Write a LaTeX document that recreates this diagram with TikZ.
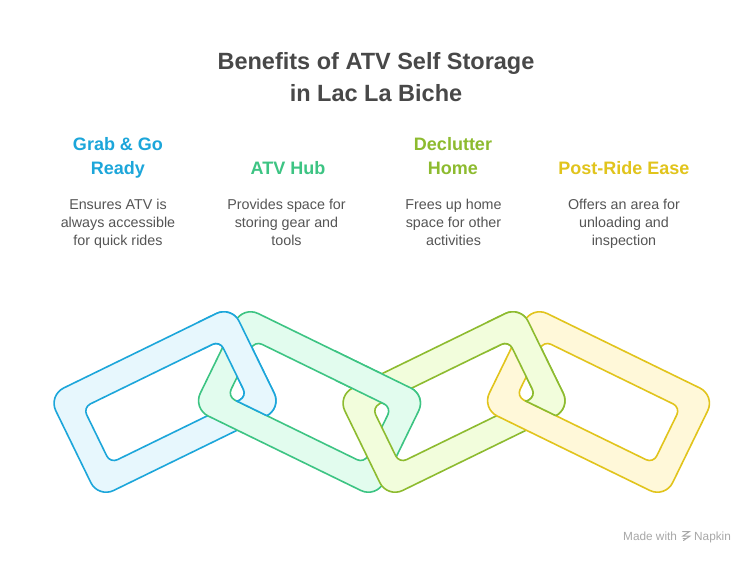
\documentclass[tikz,border=0pt]{standalone}
\usepackage{fontspec}
\setmainfont{Liberation Sans}
\definecolor{blueL}{HTML}{1CA6DA}
\definecolor{blueF}{HTML}{E7F7FD}
\definecolor{greenL}{HTML}{3DC483}
\definecolor{greenF}{HTML}{E2FCEE}
\definecolor{limeL}{HTML}{8DBB2F}
\definecolor{limeF}{HTML}{F2FDDC}
\definecolor{yelL}{HTML}{E1C41C}
\definecolor{yelF}{HTML}{FFF8D9}
\definecolor{titleC}{HTML}{484848}
\definecolor{bodyC}{HTML}{555555}
\definecolor{markC}{HTML}{A8A8A8}
\newcommand\chainlink[4]{%
  \begin{scope}[shift={(#1,#2)},rotate=#3]
    \path[fill=#4F,draw=#4L,line width=1.6pt,even odd rule]
      [rounded corners=17pt] (-102,-57) rectangle (102,57)
      [rounded corners=8pt] (-76,-31) rectangle (76,31);
  \end{scope}}
\newcommand\linkseam[3]{%
  \begin{scope}[shift={(#1,#2)},rotate=26]
    \clip[rounded corners=17pt] (-102,-57) rectangle (102,57);
    \draw[#3L,line width=1.6pt] (64.4,29.9) -- (101.4,77.2);
  \end{scope}}
\begin{document}
\begin{tikzpicture}[x=1pt,y=-1pt,
  titlefont/.style={font=\fontsize{23.5}{28}\selectfont\bfseries,text=titleC,inner sep=0pt,anchor=base},
  headfont/.style={font=\fontsize{18}{22}\selectfont\bfseries,inner sep=0pt,anchor=base},
  bodyfont/.style={font=\fontsize{14.3}{17}\selectfont,text=bodyC,inner sep=0pt,anchor=base},
  markfont/.style={font=\fontsize{11.8}{13}\selectfont,text=markC,inner sep=0pt,anchor=base west}]
\useasboundingbox[fill=white] (0,0) rectangle (756,564);

% title
\node[titlefont] (title1) at (376,70) {Benefits of ATV Self Storage};
\node[titlefont] (title2) at (376,101.5) {in Lac La Biche};

% headings
\node[headfont,text=blueL] (h1a) at (118,151) {Grab \& Go};
\node[headfont,text=blueL] (h1b) at (118,175) {Ready};
\node[headfont,text=greenL] (h2) at (288,175) {ATV Hub};
\node[headfont,text=limeL] (h3a) at (453,151) {Declutter};
\node[headfont,text=limeL] (h3b) at (453,175) {Home};
\node[headfont,text=yelL] (h4) at (624,175) {Post-Ride Ease};

% body texts
\node[bodyfont] (b1a) at (118,210) {Ensures ATV is};
\node[bodyfont] (b1b) at (118,228) {always accessible};
\node[bodyfont] (b1c) at (118,246) {for quick rides};
\node[bodyfont] (b2a) at (286.5,210) {Provides space for};
\node[bodyfont] (b2b) at (286.5,228) {storing gear and};
\node[bodyfont] (b2c) at (286.5,246) {tools};
\node[bodyfont] (b3a) at (453.5,210) {Frees up home};
\node[bodyfont] (b3b) at (453.5,228) {space for other};
\node[bodyfont] (b3c) at (453.5,246) {activities};
\node[bodyfont] (b4a) at (624,210) {Offers an area for};
\node[bodyfont] (b4b) at (624,228) {unloading and};
\node[bodyfont] (b4c) at (624,246) {inspection};

% chain links
\chainlink{165}{402}{26}{blue}
\chainlink{309.5}{402}{-26}{green}
\chainlink{454}{402}{26}{lime}
\chainlink{598.5}{402}{-26}{yel}

% interlocking: left link over right link at the upper crossing
\begin{scope}
  \clip (198,290) -- (300,290) -- (300,431.9) -- (198,382.2) -- cycle;
  \chainlink{165}{402}{26}{blue}
\end{scope}
\linkseam{165}{402}{blue}
\begin{scope}
  \clip (335,290) rectangle (433,405);
  \chainlink{309.5}{402}{-26}{green}
\end{scope}
\begin{scope}
  \clip (487,290) -- (589,290) -- (589,431.9) -- (487,382.2) -- cycle;
  \chainlink{454}{402}{26}{lime}
\end{scope}
\linkseam{454}{402}{lime}

% watermark
\node[markfont] (made) at (623,540) {Made with};
\node[markfont] (napkin) at (694,540) {Napkin};
\draw[markC,line width=1pt,line cap=round] (682.5,531.5) -- (689.5,531.5) -- (683,536) -- (690,536) -- (683.5,540.5);
\draw[markC,line width=1pt,line cap=round] (683,538.5) -- (686.5,538.5);
\end{tikzpicture}
\end{document}
